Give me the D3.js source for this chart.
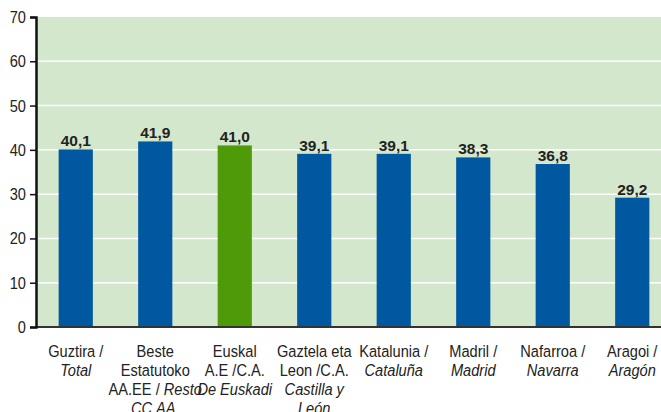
<!DOCTYPE html>
<html>
<head>
<meta charset="utf-8">
<script src="https://cdn.jsdelivr.net/npm/d3@7"></script>
<style>
  body { margin: 0; background: #fff; }
  svg { display: block; }
  .narrow { font-family: "Liberation Sans", Arial, sans-serif; }
</style>
</head>
<body>
<div id="chart"></div>
<script>
var width = 661;
var height = 412;

// data
var categories = ["total", "resto", "euskadi", "castilla", "cataluna", "madrid", "navarra", "aragon"];
var values = [40.1, 41.9, 41.0, 39.1, 39.1, 38.3, 36.8, 29.2];
var valueLabels = ["40,1", "41,9", "41,0", "39,1", "39,1", "38,3", "36,8", "29,2"];
var highlight = ["euskadi"];
var yTicks = [0, 10, 20, 30, 40, 50, 60, 70];
// each label: lines of [text, italic] segments
var catLabels = [
  [[["Guztira /", false]], [["Total", true]]],
  [[["Beste", false]], [["Estatutoko", false]], [["AA.EE /", false], ["Resto", true]], [["CC.AA.", true]]],
  [[["Euskal", false]], [["A.E /C.A.", false]], [["De Euskadi", true]]],
  [[["Gaztela eta", false]], [["Leon /C.A.", false]], [["Castilla y", true]], [["León", true]]],
  [[["Katalunia /", false]], [["Cataluña", true]]],
  [[["Madril /", false]], [["Madrid", true]]],
  [[["Nafarroa /", false]], [["Navarra", true]]],
  [[["Aragoi /", false]], [["Aragón", true]]]
];

var data = categories.map(function(c, i) {
  return { key: c, value: values[i], label: valueLabels[i], text: catLabels[i] };
});

var plotLeft = 36, plotTop = 17, plotBottom = 327;
var squeeze = 0.86; // narrow the type horizontally

var svg = d3.select("#chart")
  .append("svg")
  .attr("width", width)
  .attr("height", height);

var x = d3.scaleBand()
  .domain(categories)
  .range([plotLeft, 672])
  .paddingInner(0.57)
  .paddingOuter(0.285);

var y = d3.scaleLinear()
  .domain([0, 70])
  .range([plotBottom, plotTop]);

// background
svg.append("rect")
  .attr("x", plotLeft)
  .attr("y", plotTop)
  .attr("width", width - plotLeft)
  .attr("height", plotBottom - plotTop)
  .attr("fill", "#d3e7cc");

// gridlines
svg.append("g")
  .selectAll("line")
  .data(yTicks.filter(function(d) { return d > 0 && d < 70; }))
  .enter()
  .append("line")
  .attr("x1", plotLeft)
  .attr("x2", width)
  .attr("y1", function(d) { return y(d); })
  .attr("y2", function(d) { return y(d); })
  .attr("stroke", "#fff")
  .attr("stroke-width", 1.5);

// bars
svg.append("g")
  .selectAll("rect")
  .data(data)
  .enter()
  .append("rect")
  .attr("x", function(d) { return x(d.key); })
  .attr("y", function(d) { return y(d.value); })
  .attr("width", x.bandwidth())
  .attr("height", function(d) { return y(0) - y(d.value); })
  .attr("fill", function(d) { return highlight.includes(d.key) ? "#4f9a08" : "#0058a0"; });

// value labels
svg.append("g")
  .selectAll("text")
  .data(data)
  .enter()
  .append("text")
  .attr("x", function(d) { return x(d.key) + x.bandwidth() / 2; })
  .attr("y", function(d) { return y(d.value) - 3; })
  .attr("text-anchor", "middle")
  .style("font-family", "'Liberation Sans', Arial, sans-serif")
  .style("font-size", "15.5px")
  .style("font-weight", "bold")
  .attr("fill", "#222")
  .text(function(d) { return d.label; });

// baseline
svg.append("line")
  .attr("x1", plotLeft)
  .attr("x2", width)
  .attr("y1", y(0))
  .attr("y2", y(0))
  .attr("stroke", "#333")
  .attr("stroke-width", 2);

// y axis
var yAxis = d3.axisLeft(y)
  .tickValues(yTicks)
  .tickSize(6);

var yg = svg.append("g")
  .attr("transform", "translate(" + plotLeft + ",0)")
  .call(yAxis);

yg.select(".domain").attr("stroke", "#111").attr("stroke-width", 2.5);
yg.selectAll(".tick line").attr("stroke", "#111").attr("stroke-width", 1.5);
yg.selectAll(".tick text")
  .attr("class", "narrow")
  .attr("x", -10 / squeeze)
  .attr("transform", "scale(" + squeeze + ",1)")
  .style("font-size", "17px")
  .attr("fill", "#222");

// category labels
var catG = svg.append("g")
  .selectAll("text")
  .data(data)
  .enter()
  .append("text")
  .attr("class", "narrow")
  .attr("text-anchor", "middle")
  .attr("transform", function(d) {
    return "translate(" + (x(d.key) + x.bandwidth() / 2) + ",0) scale(" + squeeze + ",1)";
  })
  .style("font-size", "17px")
  .attr("fill", "#222");

catG.each(function(d) {
  var t = d3.select(this);
  d.text.forEach(function(line, li) {
    line.forEach(function(seg, si) {
      var ts = t.append("tspan")
        .style("font-style", seg[1] ? "italic" : "normal")
        .text((si > 0 ? " " : "") + seg[0]);
      if (si === 0) {
        ts.attr("x", 0).attr("y", 357 + li * 19);
      }
    });
  });
});
</script>
</body>
</html>
